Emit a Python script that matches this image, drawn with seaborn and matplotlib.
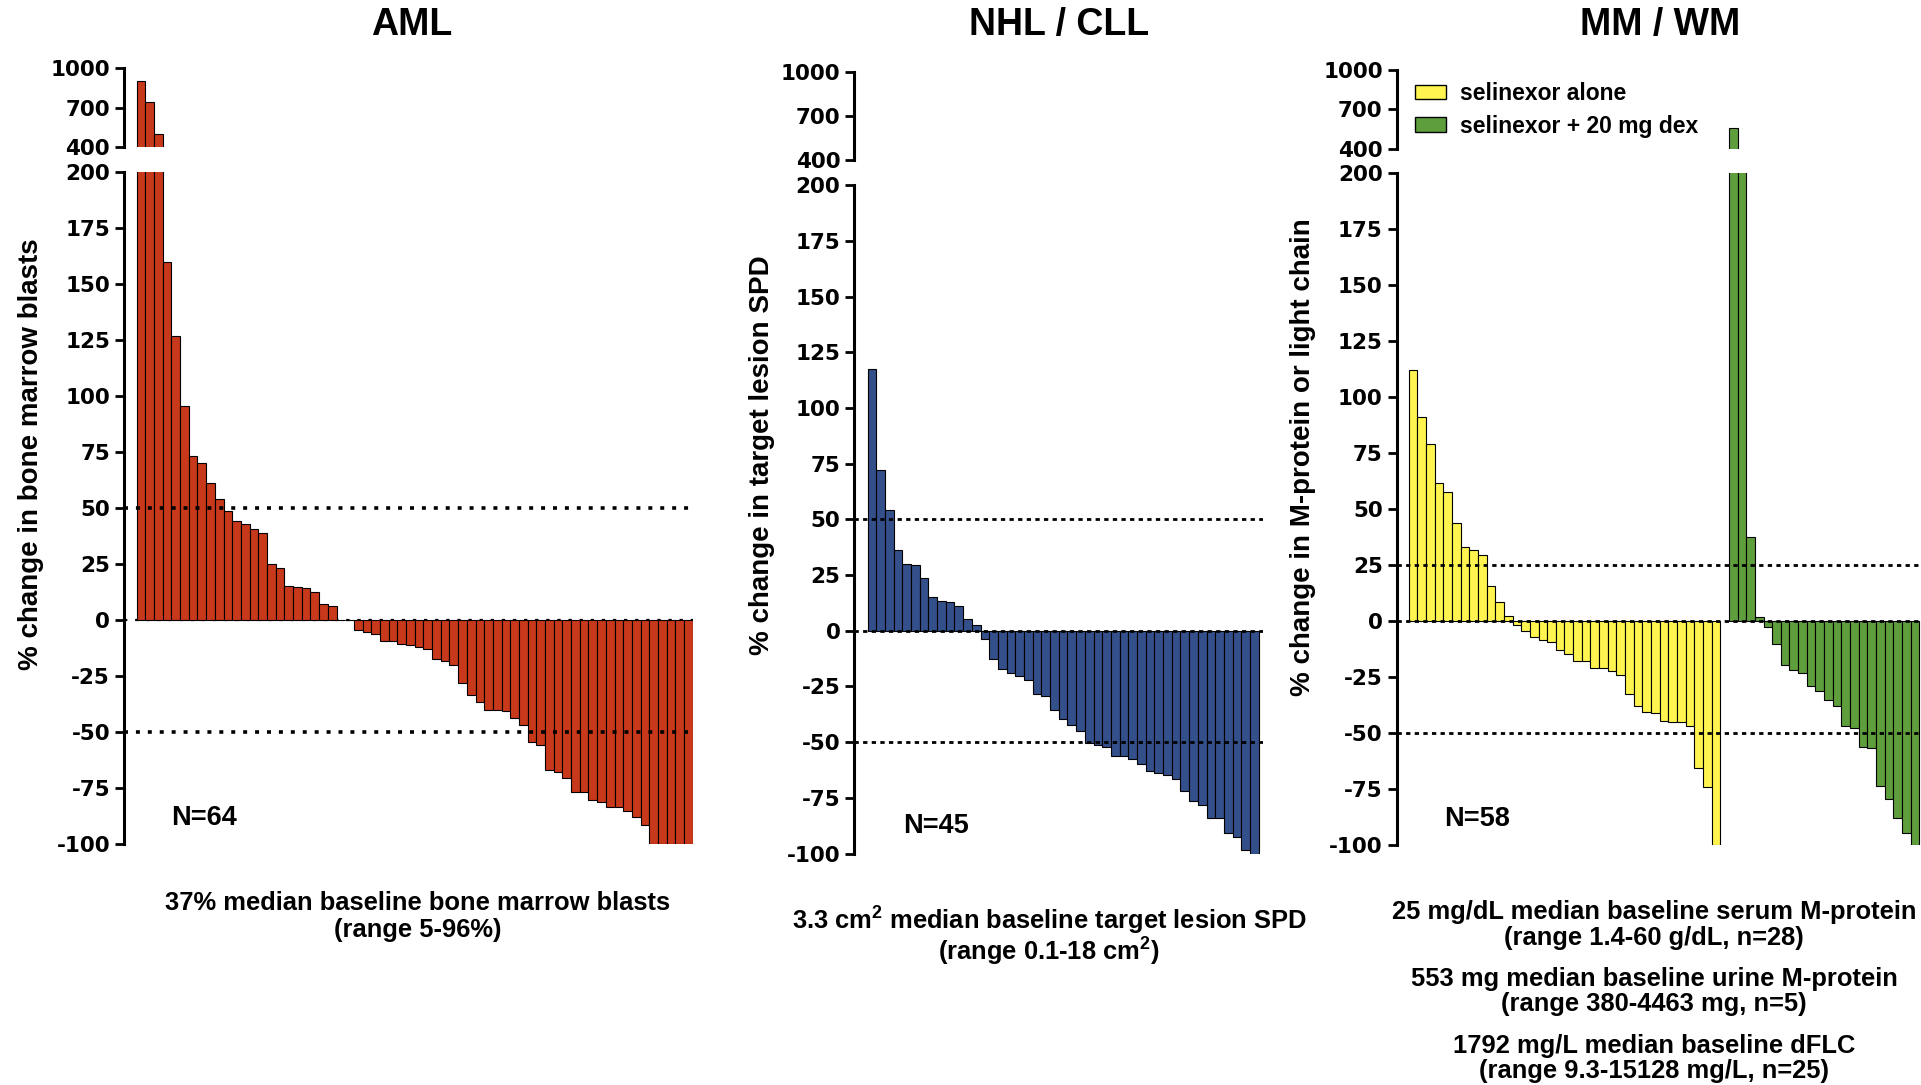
import numpy as np
import pandas as pd
import matplotlib
matplotlib.use("Agg")
import matplotlib.pyplot as plt
from matplotlib.patches import Patch
import seaborn as sns

# ---- data: best % change per patient, sorted (waterfall order) ----
aml_change = [900, 740, 500, 160, 127, 95.5, 73, 70, 61, 54, 48.7,
              44.3, 42.7, 40.6, 38.7, 24.9, 23.1, 15.3, 14.7, 14.3, 12.4, 7, 6.1,
              0, 0,
              -4.5, -5.2, -6.4, -9.5, -9.5, -10.7, -11, -12.2, -13.1, -17.3,
              -18.5, -20.2, -28.3, -33.6, -36.5, -40, -40, -40.6, -43.6, -47,
              -54.6, -56, -66.8, -68, -70.7, -76.6, -77, -80.2, -81.1, -83.6,
              -83.6, -85.3, -87.8, -91.7, -100, -100, -100, -100, -100]

nhl_change = [117.4, 72.2, 54.1, 36.4, 30, 29.5, 23.8, 15.2, 13.5, 12.8, 11,
              5.2, 2.5, -3.9, -12.5, -17.2, -18.9, -20.4, -21.9, -28.5, -29.5,
              -35.4, -39.8, -42.5, -45.2, -50.6, -51.1, -52.1, -56, -56, -57.7,
              -59.7, -63.1, -63.9, -64.9, -66.6, -72, -76.4, -78.1, -84, -84,
              -90.7, -92.4, -98.3, -100]

mm_alone = [112, 91, 79, 61.8, 57.8, 44.1, 33, 32, 29.4, 15.9, 8.8, 2.2,
            -1.7, -4.2, -7.1, -8.3, -9.1, -12.7, -14.5, -17.9, -17.9, -20.8,
            -20.8, -22, -24, -32.6, -37.7, -40.4, -40.9, -44.4, -44.9, -45.1,
            -46.6, -65.4, -74, -100]
mm_dex = [560, 300, 37.5, 2, -2.5, -10.3, -19.6, -21.6, -23.3, -28.9, -30.9,
          -35.3, -38, -46.8, -47.5, -56.1, -56.6, -73.5, -79.2, -87.7, -94.6, -100]

panel_titles = ["AML", "NHL / CLL", "MM / WM"]
y_labels = ["% change in bone marrow blasts",
            "% change in target lesion SPD",
            "% change in M-protein or light chain"]
n_labels = ["N=64", "N=45", "N=58"]
mm_groups = ["selinexor alone", "selinexor + 20 mg dex"]

upper_ticks = [400, 700, 1000]
lower_ticks = [200, 175, 150, 125, 100, 75, 50, 25, 0, -25, -50, -75, -100]

RED = "#C8381A"
BLUE = "#34508A"
YELLOW = "#FFF450"
GREEN = "#5E9E3C"

W, H = 1921, 1085
sns.set_style("ticks")
plt.rcParams["font.family"] = ["Liberation Sans", "DejaVu Sans"]
plt.rcParams["font.weight"] = "bold"
plt.rcParams["mathtext.fontset"] = "custom"
plt.rcParams["mathtext.rm"] = "Liberation Sans:bold"
plt.rcParams["mathtext.bf"] = "Liberation Sans:bold"
plt.rcParams["mathtext.it"] = "Liberation Sans:bold"
for key in ("text.color", "axes.labelcolor", "xtick.color", "ytick.color", "axes.edgecolor"):
    plt.rcParams[key] = "black"

fig = plt.figure(figsize=(W / 100, H / 100), dpi=100)
fig.patch.set_facecolor("white")


def px_axes(left, right, top, bottom):
    return fig.add_axes([left / W, 1 - bottom / H, (right - left) / W, (bottom - top) / H])


def style_axis(ax, ticks, ylim, xlim):
    ax.set_ylim(*ylim)
    ax.set_xlim(*xlim)
    ax.set_yticks(ticks)
    ax.set_yticklabels([str(t) for t in ticks], fontfamily="DejaVu Sans",
                       fontweight="bold", fontsize=15.5, color="black")
    for s in ("top", "right", "bottom"):
        ax.spines[s].set_visible(False)
    ax.spines["left"].set_linewidth(2.2)
    ax.spines["left"].set_color("black")
    ax.tick_params(axis="y", direction="out", length=6.5, width=2, pad=3.5, colors="black")
    ax.tick_params(axis="x", bottom=False, labelbottom=False)
    ax.set_xlabel("")
    ax.set_ylabel("")
    ax.patch.set_alpha(0)


def draw_bars(ax, df, **kw):
    sns.barplot(data=df, x="pos", y="value", native_scale=True, width=1,
                saturation=1, edgecolor="black", linewidth=0.8,
                errorbar=None, ax=ax, legend=False, **kw)


def ref_lines(ax, levels, lw, pattern):
    for lv in levels:
        ax.axhline(lv, color="black", lw=lw, linestyle=(0, pattern), zorder=5)


# ---- AML ----
aml_df = pd.DataFrame({"pos": np.arange(len(aml_change)), "value": aml_change})
aml_xlim = (-1.96, len(aml_change) - 0.5)
ax = px_axes(124, 692.7, 68, 147.3)
draw_bars(ax, aml_df, color=RED)
style_axis(ax, upper_ticks, (400, 1000), aml_xlim)
ax = px_axes(124, 692.7, 172, 844)
draw_bars(ax, aml_df, color=RED)
style_axis(ax, lower_ticks, (-100, 200), aml_xlim)
ref_lines(ax, [50, -50], 2.6, (1.1, 2.2))
ax.axhline(0, color="black", lw=1.6, linestyle=(0, (1.5, 3.5)), zorder=0)

# ---- NHL / CLL ----
nhl_df = pd.DataFrame({"pos": np.arange(len(nhl_change)), "value": nhl_change})
nhl_xlim = (-2.02, len(nhl_change))
ax = px_axes(854.3, 1263, 71.8, 159.6)
draw_bars(ax, nhl_df, color=BLUE)
style_axis(ax, upper_ticks, (400, 1000), nhl_xlim)
ax = px_axes(854.3, 1263, 185.4, 853.5)
draw_bars(ax, nhl_df, color=BLUE)
style_axis(ax, lower_ticks, (-100, 200), nhl_xlim)
ref_lines(ax, [50, -50, 0], 2.0, (1.55, 1.55))

# ---- MM / WM ----
mm_pos = list(range(len(mm_alone))) + list(range(len(mm_alone) + 1, len(mm_alone) + 1 + len(mm_dex)))
mm_df = pd.DataFrame({"pos": mm_pos,
                      "value": mm_alone + mm_dex,
                      "group": [mm_groups[0]] * len(mm_alone) + [mm_groups[1]] * len(mm_dex)})
mm_pal = {mm_groups[0]: YELLOW, mm_groups[1]: GREEN}
mm_xlim = (-1.90, len(mm_pos) + 0.7)
ax_mm_top = px_axes(1396.6, 1921, 70.2, 148.6)
draw_bars(ax_mm_top, mm_df, hue="group", palette=mm_pal, dodge=False)
style_axis(ax_mm_top, upper_ticks, (400, 1000), mm_xlim)
ax = px_axes(1396.6, 1921, 173.3, 845.3)
draw_bars(ax, mm_df, hue="group", palette=mm_pal, dodge=False)
style_axis(ax, lower_ticks, (-100, 200), mm_xlim)
ref_lines(ax, [25, -50, 0], 2.0, (1.55, 1.55))

handles = [Patch(facecolor=mm_pal[g], edgecolor="black", linewidth=1, label=g) for g in mm_groups]
ax_mm_top.legend(handles=handles, loc="upper left", bbox_to_anchor=(1415 / W, 1 - 82 / H),
                 bbox_transform=fig.transFigure, frameon=False,
                 prop={"family": "Liberation Sans", "weight": "bold", "size": 16.5},
                 handlelength=1.35, handleheight=0.6, handletextpad=0.6,
                 labelspacing=0.42, borderpad=0, borderaxespad=0)

# ---- titles, axis labels, N counts ----
for cx, t in zip([412, 1059, 1660], panel_titles):
    fig.text(cx / W, 1 - 35 / H, t, ha="center", va="baseline", fontsize=27, fontweight="bold")

for (cx, cy), lab in zip([(31, 454), (762, 455), (1303, 457)], y_labels):
    fig.text(cx / W, 1 - cy / H, lab, rotation=90, ha="center", va="center",
             fontsize=20, fontweight="bold")

for (x0, yb), lab in zip([(171, 825), (903, 833), (1444, 826)], n_labels):
    fig.text(x0 / W, 1 - yb / H, lab, ha="left", va="baseline", fontsize=19.5, fontweight="bold")

# ---- baseline notes under each panel ----
notes = [
    (418, [(910, "37% median baseline bone marrow blasts"), (937, "(range 5-96%)")]),
    (1049, [(930, r"3.3 cm$^{2}$ median baseline target lesion SPD"), (961, r"(range 0.1-18 cm$^{2}$)")]),
    (1654, [(919, "25 mg/dL median baseline serum M-protein"),
            (945, "(range 1.4-60 g/dL, n=28)"),
            (986, "553 mg median baseline urine M-protein"),
            (1011, "(range 380-4463 mg, n=5)"),
            (1053, "1792 mg/L median baseline dFLC"),
            (1078, "(range 9.3-15128 mg/L, n=25)")]),
]
for cx, lines in notes:
    for yb, txt in lines:
        fig.text(cx / W, 1 - yb / H, txt, ha="center", va="baseline", fontsize=18.4, fontweight="bold")

fig.savefig("out.png", dpi=100, facecolor="white")
